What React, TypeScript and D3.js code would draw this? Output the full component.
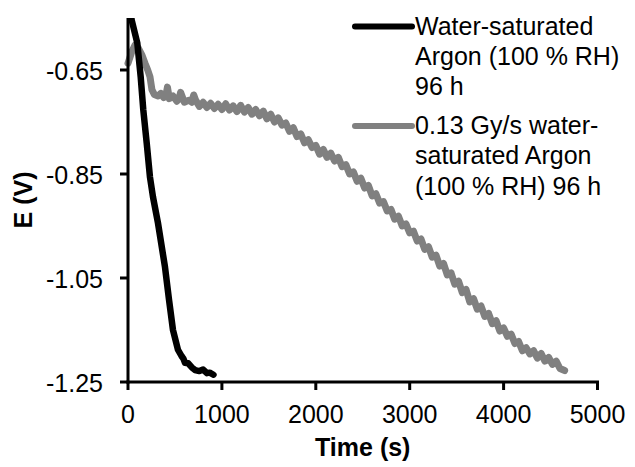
import React from "react";
import * as d3 from "d3";

const xTicks = [0, 1000, 2000, 3000, 4000, 5000];
const yTicks = [-1.25, -1.05, -0.85, -0.65];
const yTickLabels = ["-1.25", "-1.05", "-0.85", "-0.65"];

const seriesNames = [
  ["Water-saturated", "Argon (100 % RH)", "96 h"],
  ["0.13 Gy/s water-", "saturated Argon", "(100 % RH) 96 h"],
];

const blackT = [15, 39, 99, 135, 163, 199, 234, 266, 319, 394, 437, 479, 532, 570, 590, 607, 640, 680, 714, 760, 800, 841, 870, 910];
const blackE = [-0.52, -0.554, -0.598, -0.663, -0.727, -0.79, -0.856, -0.894, -0.944, -1.029, -1.092, -1.15, -1.188, -1.2, -1.205, -1.213, -1.214, -1.222, -1.227, -1.229, -1.226, -1.233, -1.232, -1.236];

const grayT = [0, 40, 75, 110, 150, 181, 210, 234, 255, 280, 320, 350, 380, 405, 420, 440, 480, 520, 545, 560, 600, 650, 680, 700, 720, 760, 800, 840, 880, 920, 960, 1000, 1040, 1080, 1120, 1160, 1200, 1240, 1280, 1320, 1360, 1400, 1440, 1480, 1520, 1560, 1600, 1640, 1680, 1720, 1760, 1800, 1840, 1880, 1920, 1960, 2000, 2040, 2080, 2120, 2160, 2200, 2240, 2280, 2320, 2360, 2400, 2440, 2480, 2520, 2560, 2600, 2640, 2680, 2720, 2760, 2800, 2840, 2880, 2920, 2960, 3000, 3040, 3080, 3120, 3160, 3200, 3240, 3280, 3320, 3360, 3400, 3440, 3480, 3520, 3560, 3600, 3640, 3680, 3720, 3760, 3800, 3840, 3880, 3920, 3960, 4000, 4040, 4080, 4120, 4160, 4200, 4240, 4280, 4320, 4360, 4400, 4440, 4480, 4520, 4560, 4600, 4650];
const grayE = [-0.637, -0.615, -0.602, -0.608, -0.622, -0.637, -0.65, -0.663, -0.688, -0.697, -0.7, -0.695, -0.703, -0.698, -0.683, -0.705, -0.7, -0.71, -0.705, -0.693, -0.712, -0.708, -0.712, -0.698, -0.708, -0.72, -0.712, -0.722, -0.714, -0.724, -0.716, -0.726, -0.715, -0.727, -0.719, -0.73, -0.718, -0.731, -0.722, -0.735, -0.726, -0.738, -0.729, -0.744, -0.735, -0.75, -0.742, -0.756, -0.752, -0.768, -0.761, -0.778, -0.773, -0.79, -0.784, -0.799, -0.795, -0.812, -0.803, -0.818, -0.81, -0.825, -0.818, -0.836, -0.832, -0.85, -0.846, -0.864, -0.858, -0.877, -0.872, -0.892, -0.888, -0.906, -0.903, -0.921, -0.918, -0.937, -0.931, -0.95, -0.946, -0.963, -0.96, -0.979, -0.975, -0.995, -0.99, -1.01, -1.006, -1.027, -1.022, -1.044, -1.04, -1.062, -1.056, -1.078, -1.072, -1.096, -1.09, -1.11, -1.104, -1.124, -1.118, -1.138, -1.132, -1.152, -1.146, -1.162, -1.158, -1.176, -1.172, -1.19, -1.184, -1.196, -1.19, -1.204, -1.195, -1.21, -1.203, -1.216, -1.21, -1.224, -1.228];

const W = 635;
const H = 467;
const FONT = "'Liberation Sans', Arial, sans-serif";

export default function App() {
  const x = d3.scaleLinear().domain([0, 5000]).range([128, 597.5]);
  const y = d3.scaleLinear().domain([-1.25, -0.55]).range([382, 18]);
  const line = d3
    .line<[number, number]>()
    .x((d) => x(d[0]))
    .y((d) => y(d[1]));
  const blackPts = blackT.map((t, i) => [t, blackE[i]] as [number, number]);
  const grayPts = grayT.map((t, i) => [t, grayE[i]] as [number, number]);
  const x0 = x(0);
  const y0 = y(-1.25);
  const yTop = y(-0.55);
  const xEnd = x(5000);

  return (
    <svg
      width={W}
      height={H}
      style={{ position: "absolute", left: 0, top: 0, background: "#fff" }}
      fontFamily={FONT}
    >
      <defs>
        <clipPath id="plot">
          <rect x={x0 - 10} y={yTop} width={xEnd - x0 + 20} height={y0 - yTop} />
        </clipPath>
      </defs>
      <g clipPath="url(#plot)">
        <path d={line(grayPts) || ""} fill="none" stroke="#808080" strokeWidth={7} strokeLinejoin="round" strokeLinecap="round" />
        <path d={line(blackPts) || ""} fill="none" stroke="#000" strokeWidth={6.5} strokeLinejoin="round" strokeLinecap="round" />
      </g>
      <line x1={x0} y1={yTop} x2={x0} y2={y0 + 1.5} stroke="#000" strokeWidth={3} />
      <line x1={x0 - 1.5} y1={y0} x2={xEnd + 1.5} y2={y0} stroke="#000" strokeWidth={3} />
      {xTicks.map((t) => (
        <g key={"x" + t}>
          <line x1={x(t)} y1={y0} x2={x(t)} y2={y0 + 8} stroke="#000" strokeWidth={3} />
          <text x={x(t)} y={y0 + 41} textAnchor="middle" fontSize={25}>
            {String(t)}
          </text>
        </g>
      ))}
      {yTicks.map((v, i) => (
        <g key={"y" + v}>
          <line x1={x0 - 8} y1={y(v)} x2={x0} y2={y(v)} stroke="#000" strokeWidth={3} />
          <text x={103} y={y(v) + 10} textAnchor="end" fontSize={25}>
            {yTickLabels[i]}
          </text>
        </g>
      ))}
      <text x={(x0 + xEnd) / 2} y={456} textAnchor="middle" fontSize={25} fontWeight="bold">
        Time (s)
      </text>
      <text
        transform={`translate(32, ${(yTop + y0) / 2}) rotate(-90)`}
        textAnchor="middle"
        fontSize={25}
        fontWeight="bold"
      >
        E (V)
      </text>
      <line x1={355} y1={26.5} x2={412} y2={26.5} stroke="#000" strokeWidth={6} strokeLinecap="round" />
      <line x1={355} y1={126} x2={412} y2={126} stroke="#808080" strokeWidth={6} strokeLinecap="round" />
      {seriesNames[0].map((s, i) => (
        <text key={"a" + i} x={415} y={34.5 + i * 30.3} fontSize={25}>
          {s}
        </text>
      ))}
      {seriesNames[1].map((s, i) => (
        <text key={"b" + i} x={415} y={133.5 + i * 30.8} fontSize={25}>
          {s}
        </text>
      ))}
    </svg>
  );
}
